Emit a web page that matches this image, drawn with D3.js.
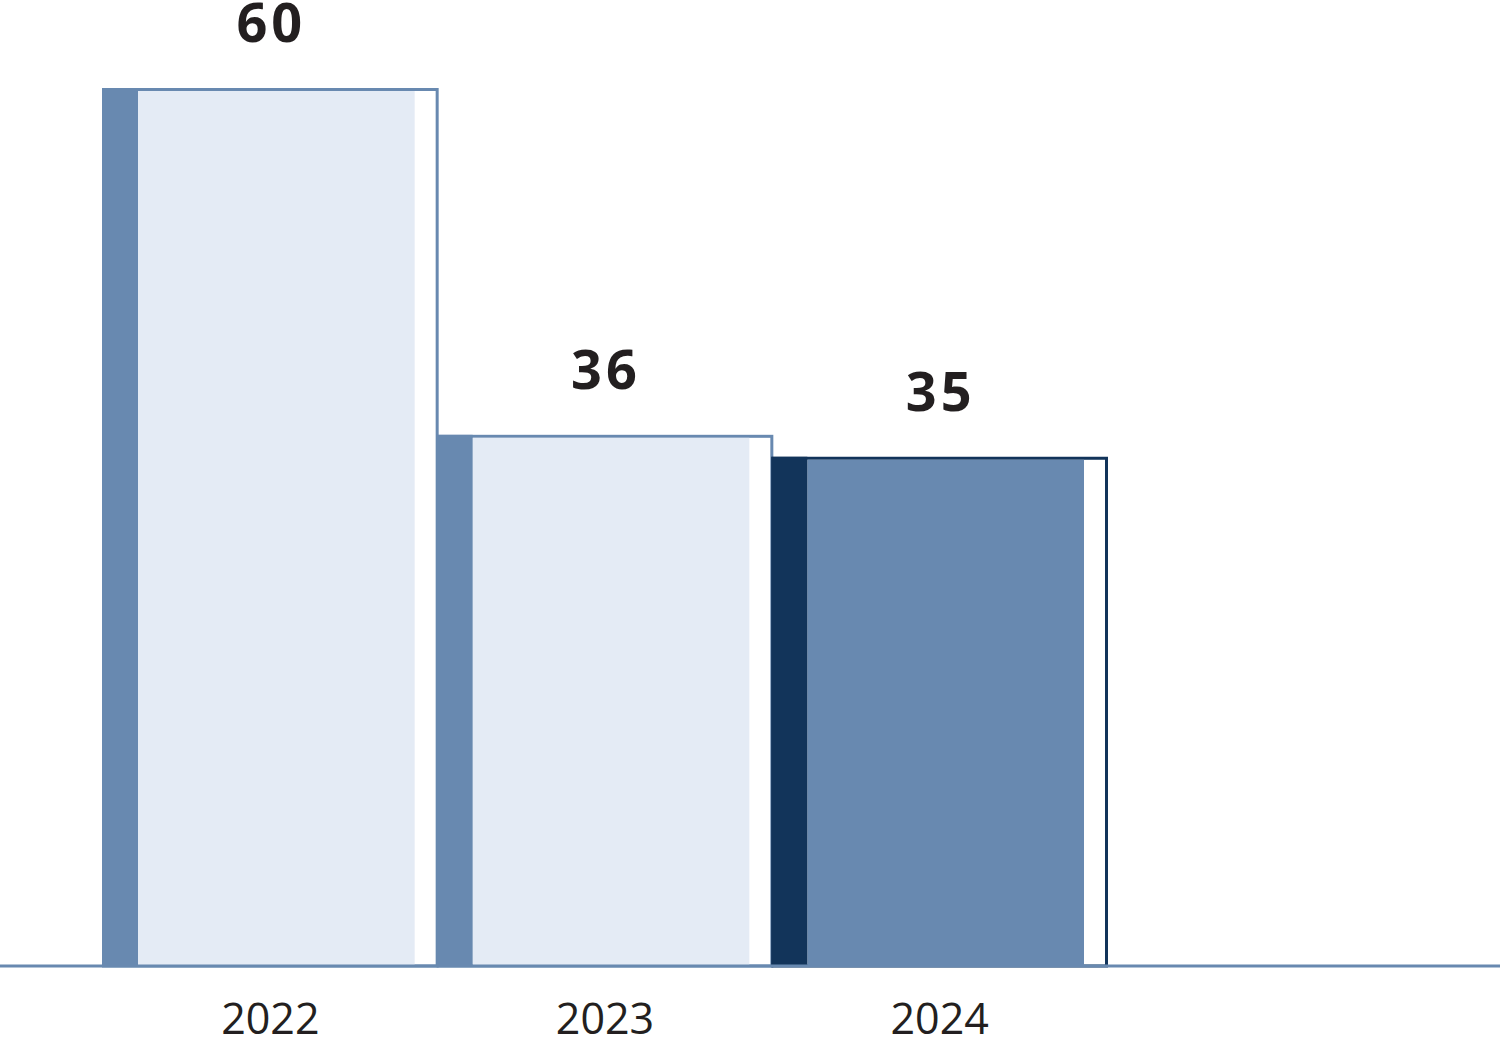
<!DOCTYPE html>
<html>
<head>
<meta charset="utf-8">
<script src="https://cdn.jsdelivr.net/npm/d3@7"></script>
<style>
  html, body { margin: 0; padding: 0; background: #fff; }
  svg { display: block; }
</style>
</head>
<body>
<div id="chart"></div>
<script>
const years = ["2022", "2023", "2024"]
const values = [60, 36.3, 34.8]
const fills = ["#e4ebf5", "#e4ebf5", "#6889b0"]
const edges = ["#6889b0", "#6889b0", "#12345a"]

const width = 1500,
height = 1039,
baseY = 966

const svg = d3.select("#chart")
.append("svg")
.attr("width", width)
.attr("height", height)

const x = d3.scaleBand()
.domain(years)
.range([102, 1106])
.padding(0)

const y = d3.scaleLinear()
.domain([0, 60])
.range([baseY, 88])

const data = years.map((d, i) => ({ year: d, value: values[i], fill: fills[i], edge: edges[i] }))

const strip = 36, gap = 22

const bars = svg.selectAll("g.bar")
.data(data)
.join("g")
.attr("class", "bar")

// outline
bars.append("rect")
.attr("x", d => x(d.year) + 1.5)
.attr("y", d => y(d.value) + 1.5)
.attr("width", x.bandwidth() - 1)
.attr("height", d => baseY - y(d.value) - 1.5)
.attr("fill", "#fff")
.attr("stroke", d => d.edge)
.attr("stroke-width", 3)

// main fill
bars.append("rect")
.attr("x", d => x(d.year) + strip)
.attr("y", d => y(d.value) + 3)
.attr("width", x.bandwidth() - strip - gap)
.attr("height", d => baseY - y(d.value) - 3)
.attr("fill", d => d.fill)

// left strip
bars.append("rect")
.attr("x", d => x(d.year))
.attr("y", d => y(d.value))
.attr("width", strip)
.attr("height", d => baseY - y(d.value))
.attr("fill", d => d.edge)

// baseline
svg.append("line")
.attr("x1", 0)
.attr("x2", width)
.attr("y1", baseY)
.attr("y2", baseY)
.attr("stroke", "#6889b0")
.attr("stroke-width", 3)

// value labels
svg.selectAll("text.val")
.data(data)
.join("text")
.attr("class", "val")
.attr("x", d => x(d.year) + x.bandwidth() / 2 + 2)
.attr("y", d => y(d.value) - 46)
.attr("text-anchor", "middle")
.style("font-family", "'Open Sans', 'Noto Sans', sans-serif")
.style("font-weight", "bold")
.style("font-size", "54px")
.style("letter-spacing", "4px")
.style("fill", "#231f20")
.text(d => Math.round(d.value))

// year labels
svg.selectAll("text.yr")
.data(data)
.join("text")
.attr("class", "yr")
.attr("x", d => x(d.year) + x.bandwidth() / 2 + 1)
.attr("y", 1034)
.attr("text-anchor", "middle")
.style("font-family", "'Open Sans', 'Noto Sans', sans-serif")
.style("font-size", "43px")
.style("fill", "#231f20")
.text(d => d.year)
</script>
</body>
</html>
